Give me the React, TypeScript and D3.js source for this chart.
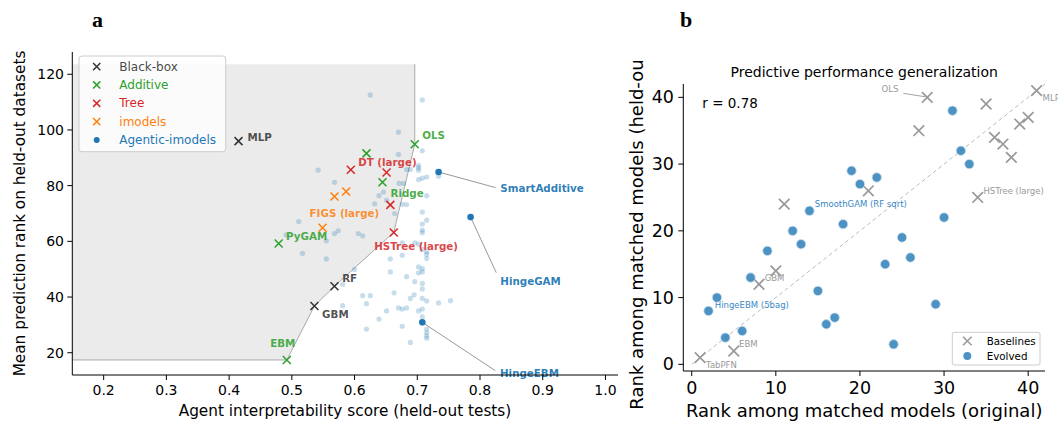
import React from "react";
import * as d3 from "d3";

const FONT = "DejaVu Sans, Verdana, sans-serif";

// ---------------- Panel a data ----------------
const categories = ["Black-box", "Additive", "Tree", "imodels", "Agentic-imodels"];
const catColors = ["#333333", "#2ca02c", "#d62728", "#ff7f0e", "#1f77b4"];

const baseNames = ["MLP", "RF", "GBM", "OLS", "Lasso", "Ridge", "PyGAM", "EBM", "DT (large)", "DT", "HSTree", "HSTree (large)", "FIGS", "RuleFit", "FIGS (large)"];
const baseCats = ["Black-box", "Black-box", "Black-box", "Additive", "Additive", "Additive", "Additive", "Additive", "Tree", "Tree", "Tree", "Tree", "imodels", "imodels", "imodels"];
const baseX = [0.415, 0.568, 0.536, 0.696, 0.619, 0.6445, 0.479, 0.492, 0.594, 0.651, 0.657, 0.6625, 0.5866, 0.568, 0.549];
const baseY = [96.0, 43.9, 36.8, 94.9, 91.6, 81.2, 59.2, 17.4, 85.7, 84.7, 73.1, 63.2, 77.9, 76.1, 64.9];
const frontierNames = ["EBM", "GBM", "RF", "HSTree (large)", "OLS"];
const shadeTop = 123.6;

const agentNames = ["SmartAdditive", "HingeGAM", "HingeEBM"];
const agentX = [0.734, 0.785, 0.708];
const agentY = [84.9, 68.7, 30.9];

const lightX = [0.625, 0.708, 0.670, 0.708, 0.670, 0.542, 0.683, 0.689, 0.702, 0.702, 0.702, 0.715, 0.708, 0.702, 0.734, 0.568, 0.671, 0.678, 0.646, 0.715, 0.639, 0.651, 0.632, 0.676, 0.683, 0.664, 0.708, 0.715, 0.511, 0.708, 0.708, 0.708, 0.574, 0.568, 0.606, 0.613, 0.491, 0.555, 0.676, 0.702, 0.708, 0.715, 0.715, 0.715, 0.517, 0.555, 0.657, 0.676, 0.702, 0.708, 0.708, 0.702, 0.657, 0.683, 0.708, 0.696, 0.581, 0.600, 0.663, 0.695, 0.708, 0.613, 0.625, 0.689, 0.708, 0.715, 0.619, 0.581, 0.670, 0.676, 0.683, 0.651, 0.702, 0.708, 0.639, 0.676, 0.619, 0.715, 0.715, 0.715, 0.715, 0.689, 0.734, 0.753, 0.696, 0.708];
const lightY = [112.6, 110.8, 99.2, 92.5, 91.2, 85.6, 85.8, 85.8, 87.3, 86.4, 85.5, 83.1, 82.7, 82.2, 83.4, 81.2, 80.8, 80.8, 77.7, 76.4, 76.4, 74.8, 73.5, 73.3, 73.2, 70.0, 70.5, 67.6, 67.1, 66.2, 64.0, 63.1, 63.8, 62.8, 62.8, 62.0, 62.3, 60.2, 59.5, 59.0, 57.1, 56.2, 55.3, 53.8, 55.7, 53.7, 53.7, 55.0, 50.8, 50.2, 49.0, 48.7, 49.0, 47.3, 44.9, 45.5, 44.6, 49.9, 41.5, 40.8, 42.9, 40.5, 40.5, 39.5, 39.5, 38.6, 37.6, 36.9, 36.1, 35.7, 36.1, 35.0, 35.0, 35.7, 32.1, 29.5, 28.5, 28.5, 27.2, 26.1, 25.2, 23.7, 37.9, 38.7, 59.5, 32.9];

const aXTicks = [0.2, 0.3, 0.4, 0.5, 0.6, 0.7, 0.8, 0.9, 1.0];
const aYTicks = [20, 40, 60, 80, 100, 120];

// ---------------- Panel b data ----------------
const bBaseNames = ["TabPFN", "EBM", "GBM", "b10", "b11", "b21", "b27", "OLS", "HSTree (large)", "b35", "b36", "b37", "b38", "b39", "b40", "MLP"];
const bBaseX = [1, 5, 8, 10, 11, 21, 27, 28, 34, 35, 36, 37, 38, 39, 40, 41];
const bBaseY = [1, 2, 12, 14, 24, 26, 35, 40, 25, 39, 34, 33, 31, 36, 37, 41];
const bEvoX = [2, 3, 4, 6, 7, 9, 12, 13, 14, 15, 16, 17, 18, 19, 20, 22, 23, 24, 25, 26, 29, 30, 31, 32, 33];
const bEvoY = [8, 10, 4, 5, 13, 17, 20, 18, 23, 11, 6, 7, 21, 29, 27, 28, 15, 3, 19, 16, 9, 22, 38, 32, 30];
const bEvoNames = bEvoX.map((x) => (x === 2 ? "HingeEBM (5bag)" : x === 14 ? "SmoothGAM (RF sqrt)" : ""));
const bTicks = [0, 10, 20, 30, 40];
const rValue = "0.78";

// ---------------- styling / placement (not data) ----------------
const labelOffA: Record<string, [number, number]> = {
  MLP: [9, -3.7], OLS: [7.4, -8.7], "DT (large)": [7.4, -7.6], Ridge: [8, 10.3],
  "FIGS (large)": [-13, -15], PyGAM: [7.4, -8], "HSTree (large)": [-19.6, 13.7],
  RF: [7.7, -8.4], GBM: [7.7, 7.7], EBM: [-16.6, -17],
};
const agentOff: Record<string, { t: [number, number]; l: [number, number] }> = {
  SmartAdditive: { t: [61.7, 16.3], l: [57, 15.6] },
  HingeGAM: { t: [29.7, 63.6], l: [25.7, 55.6] },
  HingeEBM: { t: [77.7, 50.6], l: [73, 48.3] },
};
const labelOffB: Record<string, [number, number]> = {
  TabPFN: [6, 7.3], EBM: [5.3, -6.7], GBM: [5.7, -6.7], "HSTree (large)": [5.7, -6.7], MLP: [6, 7.3],
  "HingeEBM (5bag)": [6.3, -6.4], "SmoothGAM (RF sqrt)": [5.3, -6.7],
};

const xPath = (h: number) => `M${-h},${-h}L${h},${h}M${-h},${h}L${h},${-h}`;
const colorOf = (c: string) => catColors[categories.indexOf(c)];

export default function App() {
  // panel a scales
  const ax = d3.scaleLinear().domain([0.15, 1.02]).range([72.3, 618]);
  const ay = d3.scaleLinear().domain([12, 128]).range([375, 52]);
  // panel b scales
  const bx = d3.scaleLinear().domain([-1, 42]).range([683.3, 1045]);
  const by = d3.scaleLinear().domain([-1, 42]).range([371, 84]);

  const baseIdx = (n: string) => baseNames.indexOf(n);
  const front = frontierNames.map((n) => [baseX[baseIdx(n)], baseY[baseIdx(n)]] as [number, number]);
  const xmin = ax.domain()[0];
  const line = d3.line<[number, number]>().x((d) => ax(d[0])).y((d) => ay(d[1]));
  const last = front[front.length - 1];
  const frontierPts: [number, number][] = [[xmin, front[0][1]], ...front, [last[0], shadeTop]];
  const shadePts: [number, number][] = [...frontierPts, [xmin, shadeTop]];

  const axisColor = "#000";

  return (
    <svg width={1058} height={423} style={{ position: "absolute", left: 0, top: 0, background: "#fff" }} fontFamily={FONT}>
      <defs>
        <clipPath id="clipA">
          <rect x={72.3} y={52} width={618 - 72.3} height={375 - 52} />
        </clipPath>
        <clipPath id="clipYLabB">
          <rect x={600} y={60} width={80} height={363} />
        </clipPath>
      </defs>

      {/* Panel letters */}
      <text x={92} y={27} fontFamily="Liberation Serif, DejaVu Serif, serif" fontWeight="bold" fontSize={22}>a</text>
      <text x={680} y={27} fontFamily="Liberation Serif, DejaVu Serif, serif" fontWeight="bold" fontSize={22}>b</text>

      {/* ================= Panel a ================= */}
      <g clipPath="url(#clipA)">
        <path d={line(shadePts) + "Z"} fill="#ebebeb" stroke="none" />
        <path d={line(frontierPts) || ""} fill="none" stroke="#aaaaaa" strokeWidth={1} />
      </g>
      {/* light points */}
      {lightX.map((x, i) => (
        <circle key={"l" + i} cx={ax(x)} cy={ay(lightY[i])} r={2.6} fill="#1f77b4" fillOpacity={0.25} />
      ))}
      {/* baseline markers */}
      {baseNames.map((n, i) => (
        <path key={"b" + i} d={xPath(4)} transform={`translate(${ax(baseX[i])},${ay(baseY[i])})`} stroke={colorOf(baseCats[i])} strokeWidth={1.5} fill="none" />
      ))}
      {/* baseline labels */}
      {baseNames.map((n, i) => {
        const off = labelOffA[n];
        if (!off) return null;
        return (
          <text key={"bl" + i} x={ax(baseX[i]) + off[0]} y={ay(baseY[i]) + off[1]} dominantBaseline="central" fontSize={10.3} fontWeight="bold" fill={colorOf(baseCats[i])} fillOpacity={0.85}>
            {n}
          </text>
        );
      })}
      {/* agentic points */}
      {agentNames.map((n, i) => {
        const px = ax(agentX[i]), py = ay(agentY[i]);
        const o = agentOff[n];
        return (
          <g key={"ag" + i}>
            <line x1={px} y1={py} x2={px + o.l[0]} y2={py + o.l[1]} stroke="#999" strokeWidth={1} />
            <circle cx={px} cy={py} r={3.3} fill="#1f77b4" />
            <text x={px + o.t[0]} y={py + o.t[1]} dominantBaseline="central" fontSize={10.3} fontWeight="bold" fill="#1f77b4" fillOpacity={0.95}>{n}</text>
          </g>
        );
      })}
      {/* axes a */}
      <line x1={72.3} y1={52} x2={72.3} y2={375} stroke={axisColor} strokeWidth={1} />
      <line x1={72.3} y1={375} x2={618} y2={375} stroke={axisColor} strokeWidth={1} />
      {aXTicks.map((t) => (
        <g key={"axt" + t}>
          <line x1={ax(t)} x2={ax(t)} y1={375} y2={380} stroke="#000" />
          <text x={ax(t)} y={390} textAnchor="middle" dominantBaseline="central" fontSize={14}>{t.toFixed(1)}</text>
        </g>
      ))}
      {aYTicks.map((t) => (
        <g key={"ayt" + t}>
          <line x1={67.3} x2={72.3} y1={ay(t)} y2={ay(t)} stroke="#000" />
          <text x={64} y={ay(t)} textAnchor="end" dominantBaseline="central" fontSize={14}>{t}</text>
        </g>
      ))}
      <text x={345} y={411} textAnchor="middle" dominantBaseline="central" fontSize={15.3}>Agent interpretability score (held-out tests)</text>
      <text transform={`translate(20,${(52 + 375) / 2}) rotate(-90)`} textAnchor="middle" dominantBaseline="central" fontSize={15.3}>Mean prediction rank on held-out datasets</text>

      {/* legend a */}
      <rect x={79} y={56} width={146.7} height={95.7} rx={3} fill="#fff" fillOpacity={0.8} stroke="#cccccc" strokeWidth={1} />
      {categories.map((c, i) => {
        const y = 66.6 + i * 18.35;
        return (
          <g key={"lg" + i}>
            {i < 4 ? (
              <path d={xPath(3.6)} transform={`translate(96.7,${y})`} stroke={catColors[i]} strokeWidth={1.5} fill="none" />
            ) : (
              <circle cx={96.7} cy={y} r={3} fill={catColors[i]} />
            )}
            <text x={119.3} y={y} dominantBaseline="central" fontSize={12} fill={catColors[i]} fillOpacity={i === 0 ? 0.9 : 1}>{c}</text>
          </g>
        );
      })}

      {/* ================= Panel b ================= */}
      <text x={864.2} y={71.7} textAnchor="middle" dominantBaseline="central" fontSize={14}>Predictive performance generalization</text>
      <line x1={bx(0)} y1={by(0)} x2={bx(42)} y2={by(42)} stroke="#bbbbbb" strokeWidth={1} strokeDasharray="4,3" />
      <text x={702.3} y={102.7} dominantBaseline="central" fontSize={13.5}>r = {rValue}</text>

      {/* baseline labels b */}
      {bBaseNames.map((n, i) => {
        const off = labelOffB[n];
        if (!off) return null;
        return (
          <text key={"bbl" + i} x={bx(bBaseX[i]) + off[0]} y={by(bBaseY[i]) + off[1]} dominantBaseline="central" fontSize={8.5} fill="#999">{n}</text>
        );
      })}
      {/* OLS annotation */}
      {(() => {
        const i = bBaseNames.indexOf("OLS");
        const px = bx(bBaseX[i]), py = by(bBaseY[i]);
        return (
          <g>
            <text x={px - 28.8} y={py - 8} textAnchor="end" dominantBaseline="central" fontSize={8.5} fill="#999">OLS</text>
            <line x1={px - 23.9} y1={py - 4} x2={px - 2.2} y2={py - 0.6} stroke="#999" strokeWidth={0.9} />
          </g>
        );
      })()}
      {/* evolved labels */}
      {bEvoNames.map((n, i) => {
        const off = labelOffB[n];
        if (!n || !off) return null;
        return (
          <text key={"bel" + i} x={bx(bEvoX[i]) + off[0]} y={by(bEvoY[i]) + off[1]} dominantBaseline="central" fontSize={8.5} fill="#3a88c5">{n}</text>
        );
      })}
      {/* baseline markers b */}
      {bBaseX.map((x, i) => (
        <path key={"bm" + i} d={xPath(5.3)} transform={`translate(${bx(x)},${by(bBaseY[i])})`} stroke="#999" strokeWidth={1.7} fill="none" />
      ))}
      {/* evolved markers b */}
      {bEvoX.map((x, i) => (
        <circle key={"em" + i} cx={bx(x)} cy={by(bEvoY[i])} r={4.7} fill="#1f77b4" fillOpacity={0.8} stroke="#cfe2f0" strokeWidth={0.8} />
      ))}

      {/* axes b */}
      <line x1={683.3} y1={84} x2={683.3} y2={371} stroke="#000" strokeWidth={1} />
      <line x1={683.3} y1={371} x2={1045} y2={371} stroke="#000" strokeWidth={1} />
      {bTicks.map((t) => (
        <g key={"bxt" + t}>
          <line x1={bx(t)} x2={bx(t)} y1={371} y2={376} stroke="#000" />
          <text x={bx(t)} y={388} textAnchor="middle" dominantBaseline="central" fontSize={17.5}>{t}</text>
        </g>
      ))}
      {bTicks.map((t) => (
        <g key={"byt" + t}>
          <line x1={678.3} x2={683.3} y1={by(t)} y2={by(t)} stroke="#000" />
          <text x={674} y={by(t)} textAnchor="end" dominantBaseline="central" fontSize={17.5}>{t}</text>
        </g>
      ))}
      <text x={864.2} y={410.7} textAnchor="middle" dominantBaseline="central" fontSize={18}>Rank among matched models (original)</text>
      <g clipPath="url(#clipYLabB)">
        <text transform={`translate(636.7,${(84 + 371) / 2}) rotate(-90)`} textAnchor="middle" dominantBaseline="central" fontSize={18}>Rank among matched models (held-out)</text>
      </g>

      {/* legend b */}
      <rect x={952.3} y={332.3} width={87.7} height={32.7} rx={2} fill="#fff" fillOpacity={0.8} stroke="#cccccc" strokeWidth={1} />
      <path d={xPath(4.3)} transform="translate(967.3,341)" stroke="#999" strokeWidth={1.5} fill="none" />
      <text x={986.7} y={341} dominantBaseline="central" fontSize={10.3}>Baselines</text>
      <circle cx={967.3} cy={356} r={4} fill="#1f77b4" fillOpacity={0.8} />
      <text x={986.7} y={356} dominantBaseline="central" fontSize={10.3}>Evolved</text>
    </svg>
  );
}
